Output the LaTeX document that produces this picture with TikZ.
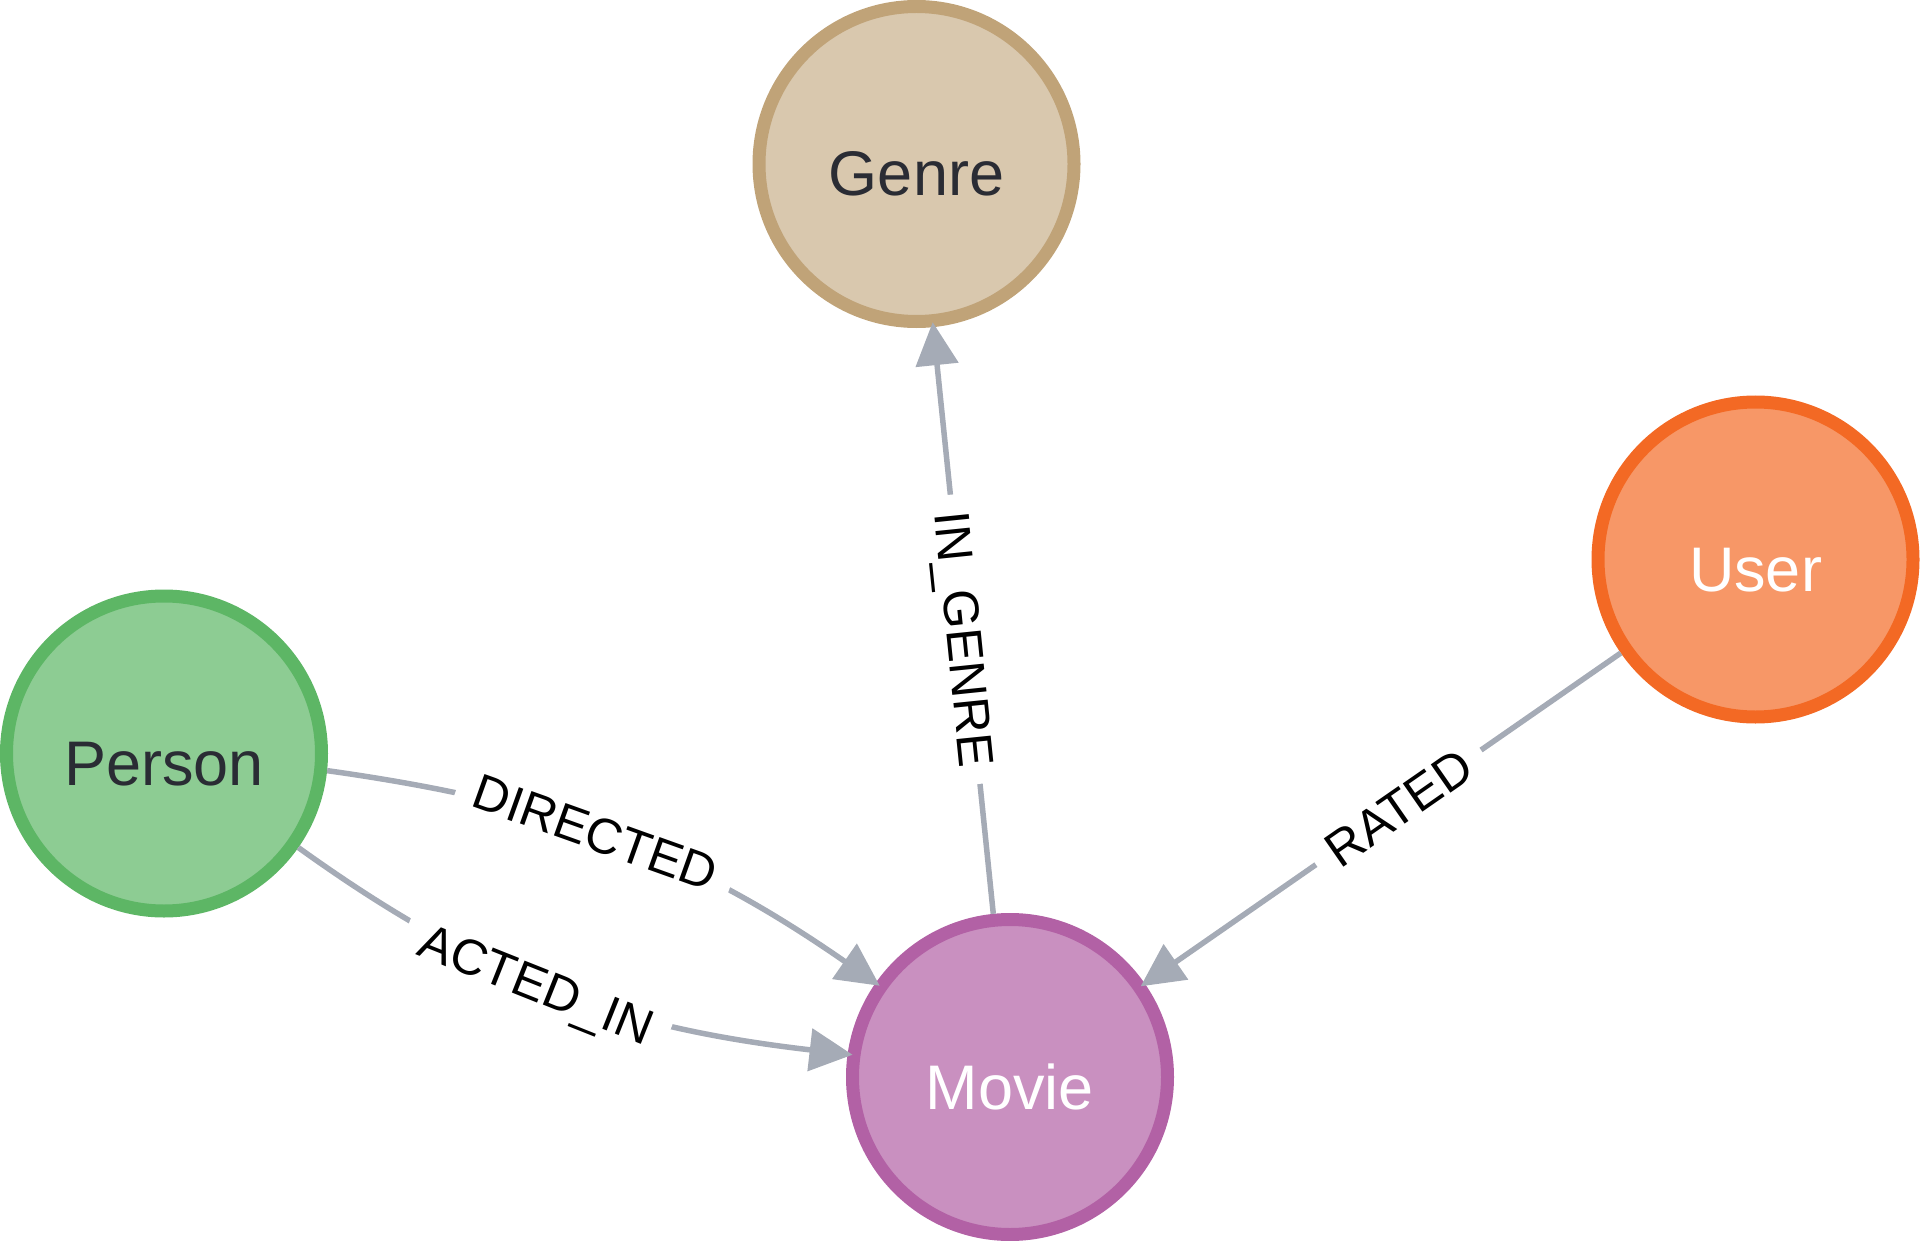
\documentclass[tikz,border=0pt]{standalone}
\usepackage{fontspec}
\setmainfont{Liberation Sans}
\usetikzlibrary{arrows.meta}
\definecolor{genreFill}{HTML}{D9C8AE}
\definecolor{genreLine}{HTML}{C0A378}
\definecolor{personFill}{HTML}{8DCC93}
\definecolor{personLine}{HTML}{5DB665}
\definecolor{movieFill}{HTML}{C990C0}
\definecolor{movieLine}{HTML}{B261A5}
\definecolor{userFill}{HTML}{F79767}
\definecolor{userLine}{HTML}{F36924}
\definecolor{darkText}{HTML}{2A2C34}
\definecolor{edgeGray}{HTML}{A5ABB6}
\begin{document}
\begin{tikzpicture}[x=1pt,y=-1pt,
  entity/.style={circle, minimum size=315pt, inner sep=0pt, line width=13pt,
    text height=64pt, text depth=0pt, font=\fontsize{63pt}{63pt}\selectfont},
  rel/.style={line width=5.5pt, draw=edgeGray,
    -{Triangle[length=43pt,width=42pt]}, shorten >=-5pt},
  rellabel/.style={sloped, fill=white, text=black, inner xsep=17.5pt, inner ysep=2pt,
    text height=36pt, text depth=0pt, font=\fontsize{50pt}{50pt}\selectfont}
]
\useasboundingbox (0,0) rectangle (1920,1241);

% nodes
\node[entity, fill=genreFill, draw=genreLine, text=darkText] (G) at (916.5,164) {Genre};
\node[entity, fill=personFill, draw=personLine, text=darkText] (P) at (164,753.5) {Person};
\node[entity, fill=movieFill, draw=movieLine, text=white] (M) at (1010,1077) {Movie};
\node[entity, fill=userFill, draw=userLine, text=white] (U) at (1755.5,559.5) {User};

% relationships
\draw[rel] (P.-6) to[out=-8, in=145.2]
  node[rellabel, pos=0.46] (lDir) {DIRECTED} (M.145.5);
\draw[rel] (P.-35.7) to[out=-35.7, in=173.4]
  node[rellabel, pos=0.46] (lAct) {ACTED\_IN} (M.172.4);
\draw[rel] (M) -- node[rellabel, pos=0.468] (lGen) {IN\_GENRE} (G);
\draw[rel] (U) -- node[rellabel, pos=0.467] (lRat) {RATED} (M);
\end{tikzpicture}
\end{document}
